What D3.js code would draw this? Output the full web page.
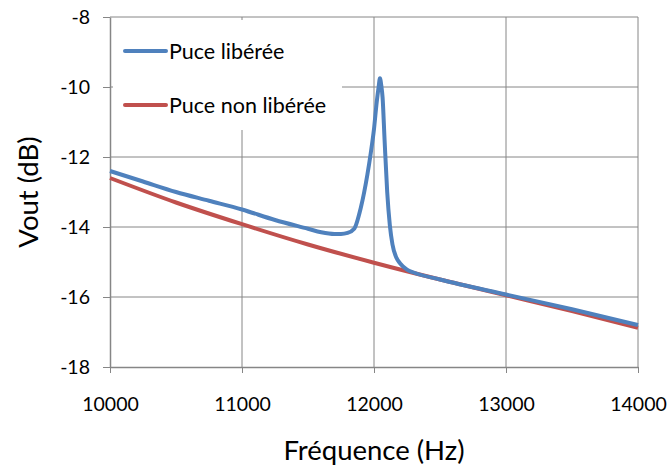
<!DOCTYPE html>
<html>
<head>
<meta charset="utf-8">
<script src="https://cdn.jsdelivr.net/npm/d3@7"></script>
<style>
  body { margin: 0; background: #fff; }
  svg text { font-family: Lato, "Open Sans", sans-serif; fill: #000; }
</style>
</head>
<body>
<div id="chart"></div>
<script>
// données
const freqLibre = [10000, 10250, 10500, 10750, 11000, 11250, 11500, 11600, 11700, 11750, 11800, 11850, 11900, 11950, 11975, 12000, 12020, 12035, 12045, 12055, 12065, 12080, 12100, 12120, 12140, 12170, 12200, 12250, 12300, 12500, 13000, 13500, 14000]
const voutLibre = [-12.4, -12.7, -13.0, -13.25, -13.5, -13.8, -14.05, -14.15, -14.2, -14.2, -14.17, -14.05, -13.45, -12.5, -11.9, -11.2, -10.45, -10.0, -9.75, -9.95, -10.3, -11.5, -13.0, -13.95, -14.5, -14.88, -15.05, -15.22, -15.3, -15.5, -15.93, -16.35, -16.8]

const freqNonLibre = [10000, 10500, 11000, 11500, 12000, 12500, 13000, 13500, 14000]
const voutNonLibre = [-12.6, -13.3, -13.92, -14.5, -15.02, -15.5, -15.95, -16.4, -16.88]

const xTicks = [10000, 11000, 12000, 13000, 14000]
const yTicks = [-18, -16, -14, -12, -10, -8]

const seriesNames = ['Puce libérée', 'Puce non libérée']
const colors = ['#4F81BD', '#C0504D']

const width = 669, height = 470
const margin = { top: 17, left: 110, right: 31, bottom: 103 }
const chart_width = width - margin.left - margin.right
const chart_height = height - margin.top - margin.bottom

const svg = d3.select('#chart').append('svg')
    .attr('width', width).attr('height', height)

const g = svg.append('g').attr('transform', `translate(${margin.left},${margin.top})`)

const xScale = d3.scaleLinear().domain([10000, 14000]).range([0, chart_width])
const yScale = d3.scaleLinear().domain([-18, -8]).range([chart_height, 0])

const gridColor = '#868686'

// grille
g.selectAll('.hgrid').data(yTicks.filter(d => d > -18)).enter()
    .append('line').attr('class', 'hgrid')
    .attr('x1', 0).attr('x2', chart_width)
    .attr('y1', d => yScale(d)).attr('y2', d => yScale(d))
    .attr('stroke', gridColor).attr('stroke-width', 1)

g.selectAll('.vgrid').data(xTicks.filter(d => d > 10000)).enter()
    .append('line').attr('class', 'vgrid')
    .attr('x1', d => xScale(d)).attr('x2', d => xScale(d))
    .attr('y1', 0).attr('y2', chart_height)
    .attr('stroke', gridColor).attr('stroke-width', 1)

// axes
const xAxis = d3.axisBottom(xScale).tickValues(xTicks).tickFormat(d3.format('d'))
    .tickSizeInner(6).tickSizeOuter(0).tickPadding(24)
const xAxisDraw = g.append('g').attr('transform', `translate(0,${chart_height})`).call(xAxis)

const yAxis = d3.axisLeft(yScale).tickValues(yTicks).tickFormat(d => d3.format('d')(d).replace('−', '-'))
    .tickSizeInner(7).tickSizeOuter(0).tickPadding(13)
const yAxisDraw = g.append('g').call(yAxis)

;[xAxisDraw, yAxisDraw].forEach(a => {
    a.select('.domain').attr('stroke', gridColor).attr('stroke-width', 1.5)
    a.selectAll('.tick line').attr('stroke', gridColor)
    a.selectAll('text').style('font-size', '19.5px').style('fill', '#000')
})

// courbes
const line = d3.line()
    .x(d => xScale(d[0]))
    .y(d => yScale(d[1]))
    .curve(d3.curveMonotoneX)

const series = [
    d3.zip(freqLibre, voutLibre),
    d3.zip(freqNonLibre, voutNonLibre)
]

g.selectAll('.serie').data([series[1], series[0]]).enter()
    .append('path').attr('class', 'serie')
    .attr('d', line)
    .attr('fill', 'none')
    .attr('stroke', (d, i) => i === 0 ? colors[1] : colors[0])
    .attr('stroke-width', 4)
    .attr('stroke-linejoin', 'round')

// légende
const legend = g.append('g')
legend.append('rect')
    .attr('x', 3).attr('y', 3).attr('width', 229).attr('height', 110)
    .attr('fill', '#fff')

seriesNames.forEach((name, i) => {
    const y = 34 + i * 54
    legend.append('line')
        .attr('x1', 15).attr('x2', 56).attr('y1', y).attr('y2', y)
        .attr('stroke', colors[i]).attr('stroke-width', 4).attr('stroke-linecap', 'round')
    legend.append('text')
        .attr('x', 59).attr('y', y).attr('dy', '0.35em')
        .style('font-size', '21.5px')
        .text(name)
})

// titres
svg.append('text')
    .attr('x', margin.left + chart_width / 2).attr('y', 460)
    .attr('text-anchor', 'middle')
    .style('font-size', '27.5px')
    .text('Fréquence (Hz)')

svg.append('text')
    .attr('transform', `translate(38,${margin.top + chart_height / 2}) rotate(-90)`)
    .attr('text-anchor', 'middle')
    .style('font-size', '27.5px')
    .text('Vout (dB)')
</script>
</body>
</html>
